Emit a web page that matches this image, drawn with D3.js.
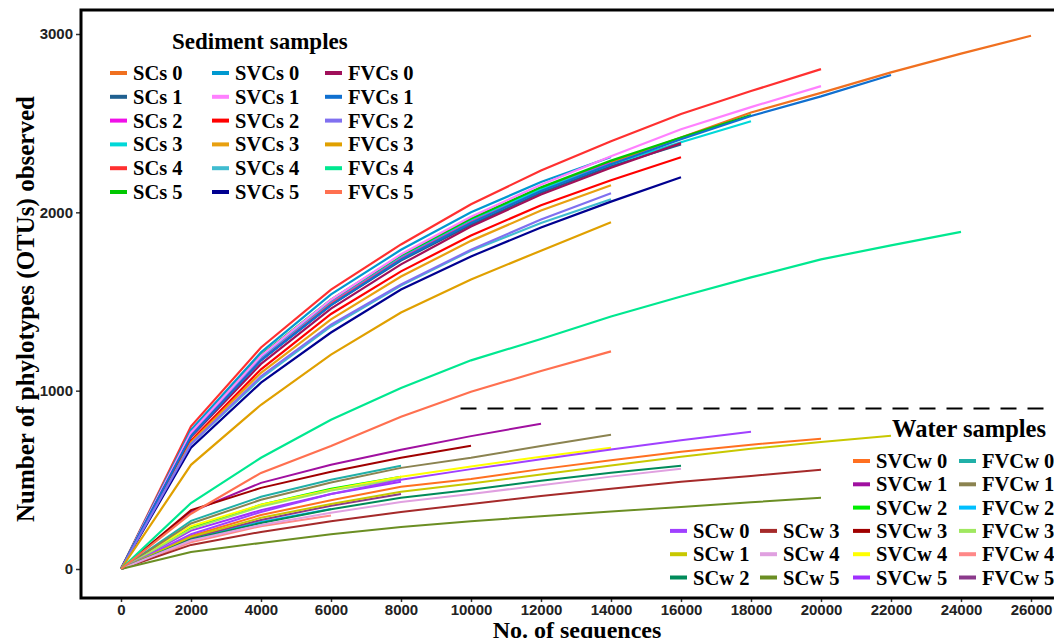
<!DOCTYPE html>
<html>
<head>
<meta charset="utf-8">
<script src="https://cdn.jsdelivr.net/npm/d3@7"></script>
<style>
  body { margin: 0; background: #fff; }
  svg { display: block; }
  .tick text { font-family: "Liberation Sans Narrow", "Arial Narrow", "Liberation Sans", sans-serif; font-weight: bold; }
  .lg { font-family: "Liberation Serif", "Times New Roman", serif; font-weight: bold; }
</style>
</head>
<body>
<script>
// ------------------------------------------------------------
// Data
// ------------------------------------------------------------
const depths = [0, 2000, 4000, 6000, 8000, 10000, 12000, 14000, 16000, 18000, 20000, 22000, 24000, 26000];
const xTickValues = [0, 2000, 4000, 6000, 8000, 10000, 12000, 14000, 16000, 18000, 20000, 22000, 24000, 26000];
const yTickValues = [0, 1000, 2000, 3000];
const splitLine = 900;

const sedimentNames = ["SCs 0", "SCs 1", "SCs 2", "SCs 3", "SCs 4", "SCs 5",
    "SVCs 0", "SVCs 1", "SVCs 2", "SVCs 3", "SVCs 4", "SVCs 5",
    "FVCs 0", "FVCs 1", "FVCs 2", "FVCs 3", "FVCs 4", "FVCs 5"];
const sedimentColors = ["#f07020", "#1f6090", "#f010e8", "#00d8d8", "#ff3030", "#00c800",
    "#0099d0", "#ff80ff", "#ff0000", "#e8a010", "#40bcd0", "#000090",
    "#a0105a", "#1070d0", "#8070f0", "#e0a000", "#00e890", "#ff7050"];
const sedimentValues = [
    [0, 760, 1180, 1490, 1740, 1950, 2130, 2280, 2420, 2560, 2670, 2785, 2890, 2990],
    [0, 750, 1170, 1480, 1730, 1930, 2110, 2260, 2380],
    [0, 760, 1185, 1500, 1750, 1955, 2130, 2280],
    [0, 765, 1190, 1505, 1755, 1960, 2130, 2270, 2393, 2511],
    [0, 800, 1242, 1567, 1820, 2045, 2235, 2399, 2551, 2680, 2803],
    [0, 770, 1200, 1510, 1760, 1965, 2140, 2290, 2420, 2545],
    [0, 780, 1215, 1540, 1790, 2000, 2170, 2310],
    [0, 765, 1195, 1510, 1765, 1975, 2155, 2315, 2466, 2590, 2708],
    [0, 720, 1120, 1430, 1669, 1870, 2040, 2180, 2309],
    [0, 710, 1100, 1400, 1640, 1840, 2010, 2152],
    [0, 700, 1070, 1360, 1590, 1785, 1940, 2073],
    [0, 680, 1045, 1326, 1567, 1753, 1915, 2060, 2197],
    [0, 740, 1150, 1460, 1708, 1920, 2100, 2250, 2388],
    [0, 745, 1170, 1480, 1735, 1940, 2120, 2270, 2410, 2540, 2650, 2770],
    [0, 700, 1080, 1370, 1595, 1790, 1960, 2107],
    [0, 584, 921, 1202, 1438, 1624, 1785, 1944],
    [0, 370, 624, 837, 1015, 1170, 1290, 1416, 1528, 1635, 1736, 1815, 1890],
    [0, 310, 539, 690, 854, 994, 1110, 1220]
];

const waterNames = ["SVCw 0", "SVCw 1", "SVCw 2", "SVCw 3", "SVCw 4", "SVCw 5",
    "FVCw 0", "FVCw 1", "FVCw 2", "FVCw 3", "FVCw 4", "FVCw 5",
    "SCw 0", "SCw 1", "SCw 2", "SCw 3", "SCw 4", "SCw 5"];
const waterColors = ["#ff7020", "#a010a0", "#00ee00", "#a00000", "#ffff00", "#a030ff",
    "#20b0a8", "#8b8350", "#00bfff", "#a0e860", "#ff8888", "#8b3a8b",
    "#a040ff", "#c8c800", "#008b5a", "#a52a2a", "#e0a0e0", "#6b8e23"];
const waterValues = [
    [0, 185, 303, 385, 461, 505, 560, 610, 657, 697, 730],
    [0, 320, 483, 585, 669, 745, 815],
    [0, 230, 360, 450, 517],
    [0, 330, 455, 545, 624, 691],
    [0, 240, 360, 445, 517, 575, 630, 680],
    [0, 215, 330, 420, 489],
    [0, 270, 405, 500, 579],
    [0, 255, 388, 485, 567, 624, 690, 753],
    [0, 170, 264, 337],
    [0, 225, 350, 440, 505],
    [0, 150, 240, 300],
    [0, 175, 275, 355, 421],
    [0, 195, 320, 420, 500, 560, 615, 670, 722, 770],
    [0, 180, 287, 365, 433, 480, 530, 580, 629, 674, 712, 747],
    [0, 165, 258, 335, 399, 445, 495, 540, 579],
    [0, 135, 208, 268, 320, 365, 410, 450, 489, 522, 556],
    [0, 160, 247, 315, 376, 420, 470, 518, 562],
    [0, 95, 146, 195, 236, 268, 296, 322, 348, 374, 399]
];

// ------------------------------------------------------------
// Chart
// ------------------------------------------------------------
const W = 1054, H = 638;
const plotLeft = 81, plotTop = 10, plotBottom = 598;

const svg = d3.select("body").append("svg")
    .attr("width", W)
    .attr("height", H);

const x = d3.scaleLinear().domain([0, 26000]).range([121, 1031]);
const y = d3.scaleLinear().domain([0, 3000]).range([569, 34]);

const line = d3.line()
    .x((d, i) => x(depths[i]))
    .y(d => y(d));

// Curves
svg.append("g")
    .selectAll("path")
    .data(waterValues)
    .enter()
    .append("path")
    .attr("d", d => line(d))
    .attr("fill", "none")
    .attr("stroke", (d, i) => waterColors[i])
    .attr("stroke-width", 2);

svg.append("g")
    .selectAll("path")
    .data(sedimentValues)
    .enter()
    .append("path")
    .attr("d", d => line(d))
    .attr("fill", "none")
    .attr("stroke", (d, i) => sedimentColors[i])
    .attr("stroke-width", 2.2);

// Dashed split between sediment and water
svg.append("line")
    .attr("x1", x(9700)).attr("x2", W)
    .attr("y1", y(splitLine)).attr("y2", y(splitLine))
    .attr("stroke", "#000")
    .attr("stroke-width", 2)
    .attr("stroke-dasharray", "16,11");

// Axes
const xAxis = svg.append("g")
    .attr("transform", `translate(0,${plotBottom})`)
    .call(d3.axisBottom(x).tickValues(xTickValues).tickSize(4).tickPadding(2).tickFormat(d3.format("d")));
xAxis.select(".domain").remove();
xAxis.selectAll(".tick line").attr("stroke", "#333").attr("stroke-width", 1.5);
xAxis.selectAll(".tick text").attr("font-size", "15px").attr("fill", "#222");

const yAxis = svg.append("g")
    .attr("transform", `translate(${plotLeft},0)`)
    .call(d3.axisLeft(y).tickValues(yTickValues).tickSize(5).tickPadding(3).tickFormat(d3.format("d")));
yAxis.select(".domain").remove();
yAxis.selectAll(".tick line").attr("stroke", "#333").attr("stroke-width", 1.5);
yAxis.selectAll(".tick text")
    .attr("font-size", "15px")
    .attr("fill", "#222")
    .style("font-family", "'Liberation Sans', Arial, sans-serif");

// Panel frame (right edge is cut off in the figure)
svg.append("path")
    .attr("d", `M${W},${plotTop}H${plotLeft}V${plotBottom}H${W}`)
    .attr("fill", "none")
    .attr("stroke", "#000")
    .attr("stroke-width", 3);

// Axis titles
svg.append("text")
    .attr("class", "lg")
    .attr("x", 577).attr("y", 638)
    .attr("text-anchor", "middle")
    .attr("font-size", "24px")
    .text("No. of sequences");

svg.append("text")
    .attr("class", "lg")
    .attr("transform", "translate(34,309) rotate(-90)")
    .attr("text-anchor", "middle")
    .attr("font-size", "25px")
    .text("Number of phylotypes (OTUs) observed");

// ------------------------------------------------------------
// Legends
// ------------------------------------------------------------
function legendItem(g, name, color, kx, ky) {
    g.append("line")
        .attr("x1", kx).attr("x2", kx + 17)
        .attr("y1", ky).attr("y2", ky)
        .attr("stroke", color)
        .attr("stroke-width", 4);
    g.append("text")
        .attr("class", "lg")
        .attr("x", kx + 23).attr("y", ky + 7)
        .attr("font-size", "20.5px")
        .text(name);
}

const sedLegend = svg.append("g");
sedLegend.append("text")
    .attr("class", "lg")
    .attr("x", 172).attr("y", 49)
    .attr("font-size", "23px")
    .text("Sediment samples");
const sedCols = [110, 212, 325];
sedimentNames.forEach((n, i) => {
    legendItem(sedLegend, n, sedimentColors[i], sedCols[Math.floor(i / 6)], 73 + (i % 6) * 23.8);
});

const watLegend = svg.append("g");
watLegend.append("text")
    .attr("class", "lg")
    .attr("x", 892).attr("y", 437)
    .attr("font-size", "24.5px")
    .text("Water samples");
const watCols = [853, 959, 670, 760];
const rowY = r => 461 + r * 23.3;
waterNames.forEach((n, i) => {
    let col, row;
    if (i < 12) {
        col = Math.floor(i / 6);
        row = i % 6;
    } else {
        col = 2 + Math.floor((i - 12) / 3);
        row = 3 + (i - 12) % 3;
    }
    legendItem(watLegend, n, waterColors[i], watCols[col], rowY(row));
});
</script>
</body>
</html>
